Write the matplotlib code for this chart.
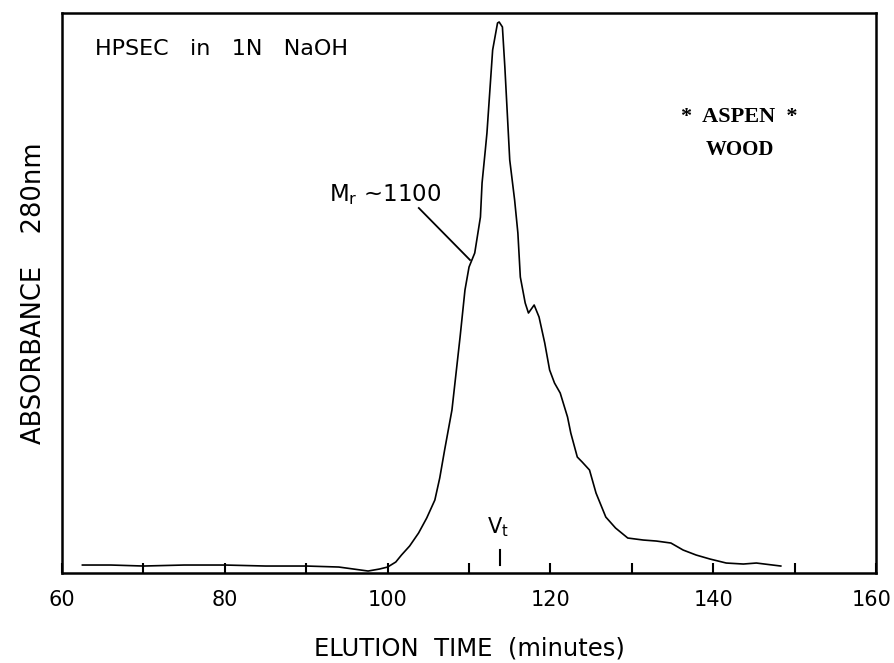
import matplotlib
matplotlib.use("Agg")
import matplotlib.pyplot as plt
import matplotlib.transforms as mtransforms

# Elution time (minutes) and relative absorbance at 280 nm (arbitrary units)
time_min = [62.5, 66, 70, 75, 80, 85, 90, 94, 97.6, 99.0, 100, 101.0, 101.7, 102.7,
            103.8, 104.8, 105.8, 106.4, 107.0,
            107.9, 108.9, 109.5, 110.0, 110.7, 111.4, 111.6, 112.0, 112.2, 112.9,
            113.5, 113.7, 114.1, 114.4, 115.0, 115.6, 116.0, 116.3, 116.9, 117.3,
            118.0, 118.6, 119.3, 119.9, 120.5, 121.2, 122.1, 122.5, 123.3, 123.9,
            124.8, 125.6, 126.8, 128.0, 129.5, 131.4, 133.0, 134.8, 136.3, 137.9,
            139.6, 141.6, 143.7, 145.3, 148.3]
absorbance = [8, 8, 7, 8, 8, 7, 7, 6, 2, 4, 6, 11, 18, 27,
              40, 55, 73, 95, 123,
              163, 236, 283, 306, 320, 356, 390, 423, 440, 523,
              550, 551, 546, 506, 413, 373, 340, 296, 270, 260,
              268, 256, 230, 203, 190, 180, 156, 140, 116, 111,
              103, 80, 56, 45, 35, 33, 32, 30, 23, 18,
              14, 10, 9, 10, 7]

major_ticks = [60, 80, 100, 120, 140, 160]
minor_ticks = [70, 90, 110, 130, 150]
vt_time = 113.8

fig = plt.figure(figsize=(8.94, 6.63), dpi=100)
ax = fig.add_axes([0.0694, 0.1357, 0.9105, 0.8447])

ax.plot(time_min, absorbance, color="black", lw=1.2)

ax.set_xlim(60, 160)
ax.set_ylim(0, 560)
ax.set_xticks(major_ticks)
ax.set_xticks(minor_ticks, minor=True)
ax.set_xticklabels([str(t) for t in major_ticks])
ax.tick_params(axis="x", which="both", direction="in", length=7, width=1.5,
               labelsize=15, pad=12, top=False)
ax.set_yticks([])
for s in ax.spines.values():
    s.set_linewidth(1.8)

# keep the last tick label inside the figure edge
last = ax.get_xticklabels()[-1]
last.set_transform(last.get_transform() +
                   mtransforms.ScaledTranslation(-4 / 100, 0, fig.dpi_scale_trans))

ax.set_xlabel("ELUTION  TIME  (minutes)", fontsize=17.5, labelpad=19)
ax.set_ylabel("ABSORBANCE    280nm", fontsize=18.5, labelpad=11)

ax.text(0.040, 0.935, "HPSEC   in   1N   NaOH", transform=ax.transAxes, fontsize=16,
        va="center", ha="left")
ax.text(0.832, 0.814, "*  ASPEN  *", transform=ax.transAxes, fontsize=16,
        family="Liberation Serif", weight="bold", ha="center", va="center")
ax.text(0.833, 0.755, "WOOD", transform=ax.transAxes, fontsize=15,
        family="Liberation Serif", weight="bold", ha="center", va="center")

ax.text(99.75, 378, r"M$_\mathregular{r}$ ~1100", fontsize=16.5, ha="center",
        va="center")
ax.plot([103.83, 110.12], [365, 313], color="black", lw=1.3)

ax.plot([vt_time, vt_time], [8, 23], color="black", lw=1.5)
ax.text(vt_time - 0.3, 46, r"V$_\mathregular{t}$", fontsize=15, ha="center", va="center")

fig.savefig("out.png", dpi=100)
